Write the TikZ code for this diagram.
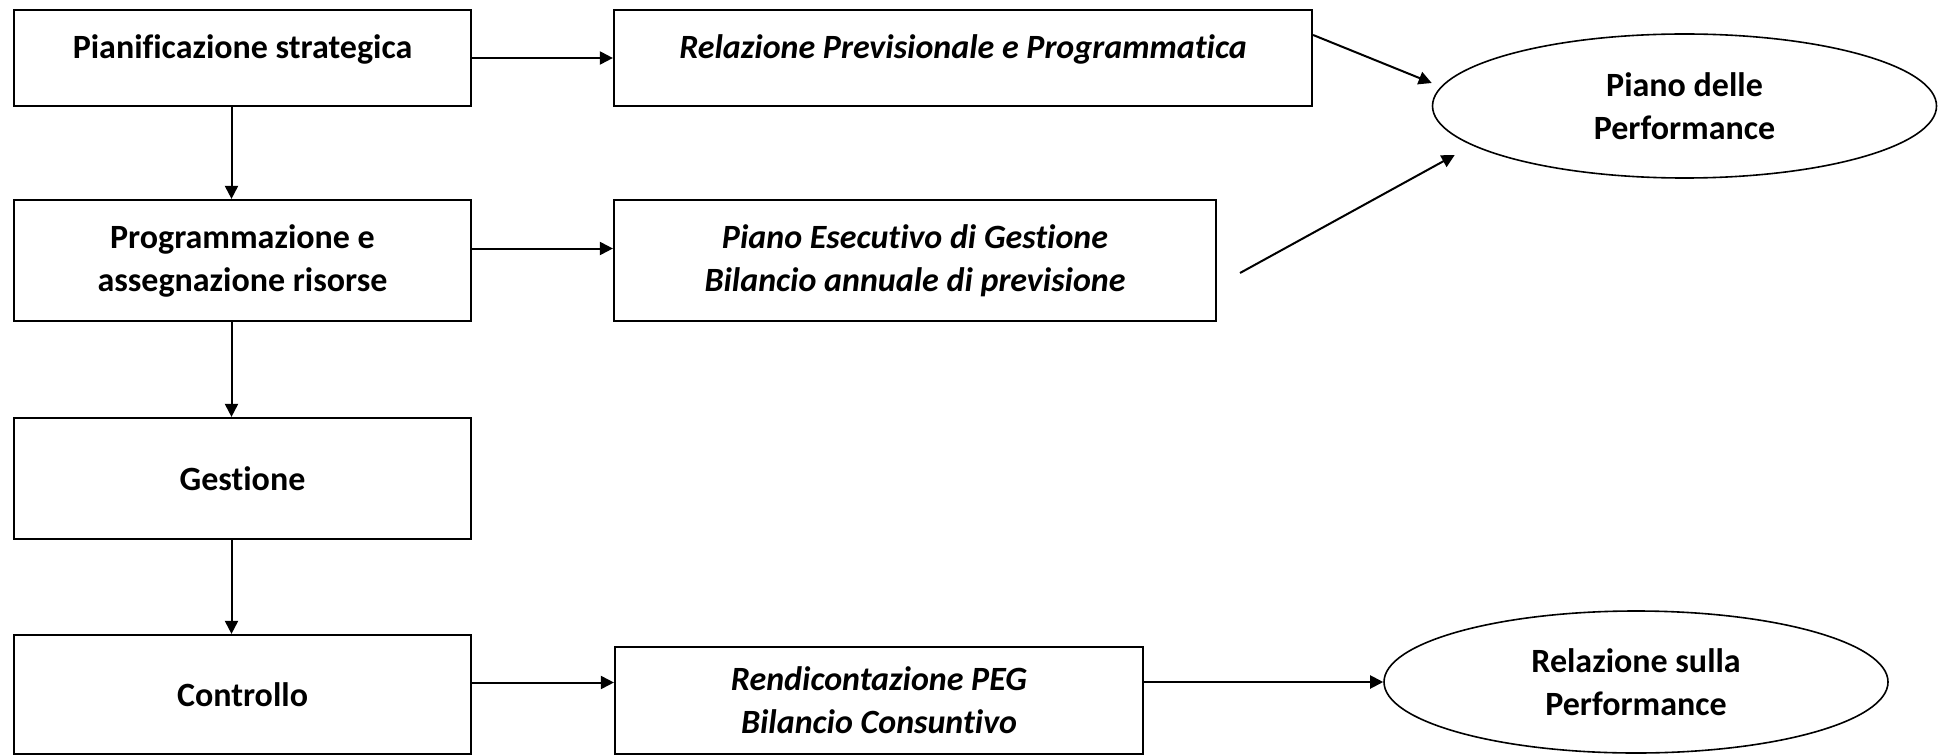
\documentclass[tikz,border=0pt]{standalone}
\usepackage{fontspec}
\setmainfont[Ligatures=NoCommon]{Carlito}
\usepackage{xcolor}
\usepackage{tikz}
\usetikzlibrary{shapes, arrows.meta}

\begin{document}
\begin{tikzpicture}[x=0.5pt, y=-0.5pt,
        font=\fontsize{17}{21.5}\selectfont\bfseries,
        fase/.style={draw, rectangle, line width=1.1pt, align=center, minimum width=228.5pt},
        documento/.style={fase, font=\fontsize{17}{21.5}\selectfont\bfseries\itshape},
        sopra/.style={text height=12.5pt, text depth=12pt},
        piano/.style={draw, ellipse, line width=0.8pt, align=center, inner sep=0pt, minimum width=252pt, minimum height=72pt},
        freccia/.style={-{Triangle[length=6.5pt, width=6.5pt]}, line width=1pt}]
    \useasboundingbox (0,0) rectangle (1946,754);

    % fasi del ciclo
    \node[fase, sopra, minimum height=48pt] (pian) at (242.5,58) {Pianificazione strategica};
    \node[fase, minimum height=60.5pt] (prog) at (242.5,260.5) {Programmazione e\\assegnazione risorse};
    \node[fase, minimum height=60.5pt] (gest) at (242.5,478.5) {Gestione};
    \node[fase, minimum height=59.5pt] (contr) at (242.5,694.5) {Controllo};

    % documenti
    \node[documento, sopra, minimum width=349pt, minimum height=48pt] (rpp) at (963,58) {Relazione Previsionale e Programmatica};
    \node[documento, minimum width=301pt, minimum height=60.5pt] (peg) at (915,260.5) {Piano Esecutivo di Gestione\\Bilancio annuale di previsione};
    \node[documento, minimum width=264pt, minimum height=53.5pt] (rend) at (879,700.5) {Rendicontazione PEG\\Bilancio Consuntivo};

    % performance
    \node[piano] (pdp) at (1684.5,106) {Piano delle\\Performance};
    \node[piano, minimum height=71pt] (rsp) at (1636,682) {Relazione sulla\\Performance};
    \coordinate (libero) at (1240,273);

    \draw[freccia] ([xshift=-5.5pt]pian.south) -- ([xshift=-5.5pt]prog.north);
    \draw[freccia] ([xshift=-5.5pt]prog.south) -- ([xshift=-5.5pt]gest.north);
    \draw[freccia] ([xshift=-5.5pt]gest.south) -- ([xshift=-5.5pt]contr.north);
    \draw[freccia] (pian.east) -- (rpp.west);
    \draw[freccia] ([yshift=6pt]prog.east) -- ([yshift=6pt]prog.east -| peg.west);
    \draw[freccia] ([yshift=6pt]contr.east) -- ([yshift=6pt]contr.east -| rend.west);
    \draw[freccia] (rend.east |- rsp.west) -- (rsp.west);
    \draw[freccia] ([yshift=11.5pt]rpp.east) -- ([yshift=11.5pt]pdp.west);
    \draw[freccia] (libero) -- ([shift={(11.5pt,-24.5pt)}]pdp.west);
\end{tikzpicture}
\end{document}
